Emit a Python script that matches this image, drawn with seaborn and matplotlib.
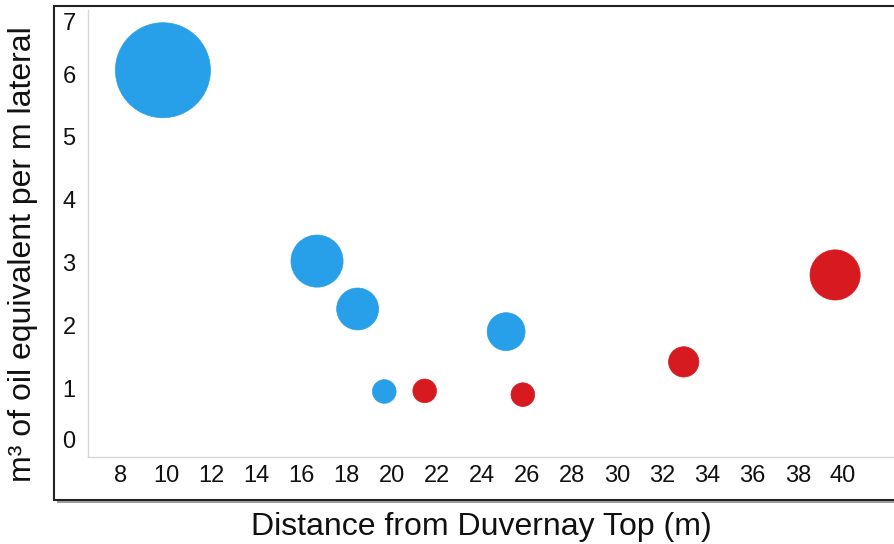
"""
Bubble chart: oil-equivalent volume per metre of lateral vs distance from the
Duvernay top. Bubble area follows a per-well value; colour marks the group.
"""

import numpy as np
import pandas as pd
import matplotlib.pyplot as plt
import matplotlib.transforms as mtransforms
from matplotlib.patches import Rectangle
import seaborn as sns

# values
distance_m = [9.86, 16.69, 18.49, 19.67, 21.46, 25.07, 25.81, 32.94, 39.65]
oil_eq_per_m = [6.06, 3.03, 2.27, 0.96, 0.97, 1.91, 0.91, 1.43, 2.81]
bubble_value = [22.6, 6.8, 4.4, 1.4, 1.4, 3.6, 1.4, 2.3, 6.3]
group = ['A', 'A', 'A', 'A', 'B', 'A', 'B', 'B', 'B']

x_ticks = list(range(8, 41, 2))
y_ticks = list(range(0, 8))

df = pd.DataFrame({
    'distance': distance_m,
    'oil_eq': oil_eq_per_m,
    'value': bubble_value,
    'group': group,
})

sns.set_theme(style="white")
plt.rcParams['font.family'] = ['Liberation Sans', 'DejaVu Sans']

W, H = 894, 544
fig = plt.figure(figsize=(W / 100, H / 100), dpi=100)

# outer framed panel with a drop shadow
x0, y0 = 53.5 / W, (H - 500) / H
top = (H - 5.5) / H
shadow = Rectangle((x0 + 3 / W, y0 - 3 / H), 1.05 - x0, top - y0,
                   transform=fig.transFigure, facecolor='#a0a0a0',
                   edgecolor='none', zorder=-3)
frame = Rectangle((x0, y0), 1.05 - x0, top - y0,
                  transform=fig.transFigure, facecolor='white',
                  edgecolor='#222222', linewidth=1.5, zorder=-2)
fig.add_artist(shadow)
fig.add_artist(frame)

ax = fig.add_axes([88 / W, (H - 457) / H, (W - 88) / W, 447 / H])
ax.set_facecolor('white')

max_area = (2 * 47.5 * 0.72) ** 2
sns.scatterplot(data=df, x='distance', y='oil_eq', hue='group', size='value',
                palette={'A': '#28A0E9', 'B': '#D71A20'},
                sizes=(0, max_area), size_norm=(0, max(bubble_value)),
                edgecolor='face', linewidth=0.5, alpha=1.0,
                legend=False, ax=ax)

ax.set_xlim(6.54, 42.26)
ax.set_ylim(-0.08, 7.016)
ax.set_xticks(x_ticks)
ax.set_yticks(y_ticks)
ax.set_xlabel('')
ax.set_ylabel('')

for side in ['top', 'right']:
    ax.spines[side].set_visible(False)
for side in ['left', 'bottom']:
    ax.spines[side].set_color('#d6d6d6')
    ax.spines[side].set_linewidth(1)

ax.tick_params(axis='both', length=3, width=1, color='#c8c8c8',
               labelsize=17, labelcolor='#111111')
ax.tick_params(axis='x', pad=2.5)
ax.tick_params(axis='y', pad=6)

# end labels on the y axis sit inside the plot area
ylabels = ax.get_yticklabels()
up = mtransforms.ScaledTranslation(0, 12.5 / 100, fig.dpi_scale_trans)
down = mtransforms.ScaledTranslation(0, -10 / 100, fig.dpi_scale_trans)
ylabels[0].set_transform(ylabels[0].get_transform() + up)
ylabels[-1].set_transform(ylabels[-1].get_transform() + down)

fig.text(481 / W, (H - 535.5) / H, 'Distance from Duvernay Top (m)',
         ha='center', va='baseline', fontsize=23, color='#111111')
fig.text(23 / W, (H - 254.5) / H, 'm³ of oil equivalent per m lateral',
         ha='center', va='center', rotation=90, fontsize=23, color='#111111')

fig.savefig('out.png', dpi=100)
plt.close(fig)
